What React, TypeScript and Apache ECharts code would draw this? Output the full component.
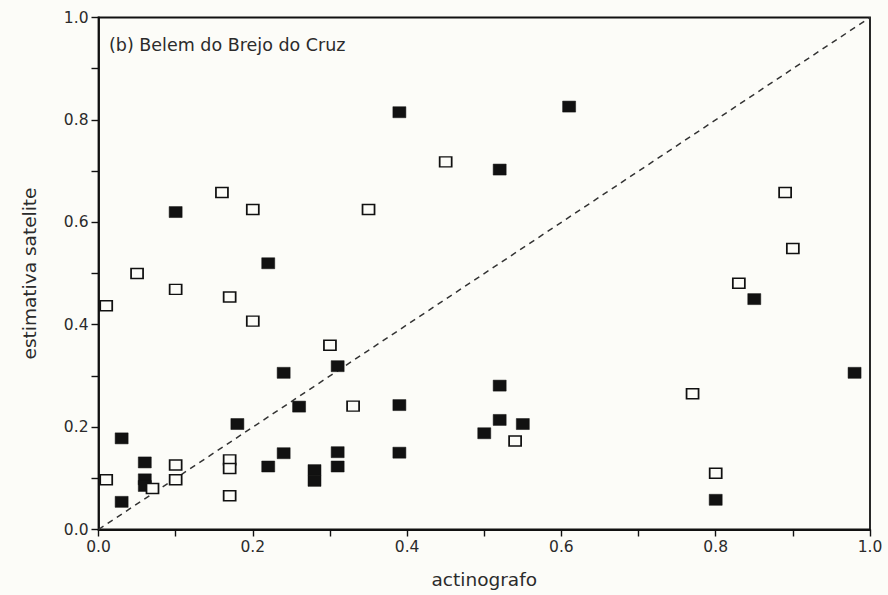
import React, { useEffect, useRef } from "react";
import * as echarts from "echarts";

// Solid squares
const filledX = [0.39, 0.61, 0.52, 0.10, 0.22, 0.85, 0.98, 0.31, 0.24, 0.52, 0.26, 0.39, 0.52, 0.55, 0.18, 0.50, 0.03, 0.39, 0.31, 0.24, 0.06, 0.31, 0.22, 0.28, 0.28, 0.06, 0.06, 0.80, 0.03];
const filledY = [0.815, 0.826, 0.703, 0.620, 0.520, 0.450, 0.306, 0.319, 0.306, 0.281, 0.240, 0.243, 0.214, 0.206, 0.206, 0.188, 0.178, 0.150, 0.151, 0.149, 0.131, 0.123, 0.123, 0.116, 0.095, 0.098, 0.085, 0.058, 0.054];

// Hollow squares
const openX = [0.45, 0.16, 0.89, 0.20, 0.35, 0.90, 0.05, 0.83, 0.10, 0.17, 0.01, 0.20, 0.30, 0.77, 0.33, 0.54, 0.17, 0.10, 0.17, 0.80, 0.01, 0.10, 0.07, 0.17];
const openY = [0.718, 0.658, 0.658, 0.625, 0.625, 0.549, 0.500, 0.481, 0.469, 0.454, 0.437, 0.407, 0.360, 0.265, 0.241, 0.173, 0.136, 0.126, 0.119, 0.110, 0.097, 0.097, 0.080, 0.066];

// 1:1 reference line
const diagX = [0, 1];
const diagY = [0, 1];

const tickValues = [0, 0.2, 0.4, 0.6, 0.8, 1.0];

const FONT = "DejaVu Sans";
const INK = "#111";
const TEXT = "#2b2b2b";
const PAPER = "#fcfcf8";

export default function App() {
  const ref = useRef<HTMLDivElement>(null);

  useEffect(() => {
    if (!ref.current) return;
    const chart = echarts.init(ref.current, undefined, { renderer: "svg" });

    // only every other tick carries a label
    const labelFmt = (v: number) =>
      tickValues.some((t) => Math.abs(t - v) < 1e-6) ? v.toFixed(1) : "";

    const axisCommon = {
      type: "value" as const,
      min: 0,
      max: 1,
      interval: 0.1,
      axisLine: { show: true, lineStyle: { color: INK, width: 1.8 } },
      axisTick: { show: true, inside: false, length: 7, lineStyle: { color: INK, width: 1.4 } },
      splitLine: { show: false },
      axisLabel: {
        formatter: labelFmt,
        color: TEXT,
        fontFamily: FONT,
        fontSize: 15.5,
        showMinLabel: true,
        showMaxLabel: true,
      },
      nameLocation: "middle" as const,
      nameTextStyle: { color: TEXT, fontFamily: FONT, fontSize: 18.5 },
    };

    chart.setOption({
      animation: false,
      backgroundColor: PAPER,
      grid: {
        left: 98.5,
        right: 18,
        top: 17.5,
        bottom: 65.5,
        show: true,
        borderColor: INK,
        borderWidth: 1.8,
        backgroundColor: "transparent",
      },
      title: {
        text: "(b) Belem do Brejo do Cruz",
        left: 104,
        top: 31,
        textStyle: { color: TEXT, fontFamily: FONT, fontSize: 17.5, fontWeight: "normal" },
      },
      xAxis: {
        ...axisCommon,
        name: "actinografo",
        nameGap: 40,
        axisLabel: { ...axisCommon.axisLabel, margin: 9 },
      },
      yAxis: {
        ...axisCommon,
        name: "estimativa satelite",
        nameGap: 60,
        axisLabel: { ...axisCommon.axisLabel, margin: 10 },
      },
      series: [
        {
          type: "line",
          data: diagX.map((x, i) => [x, diagY[i]]),
          symbol: "none",
          lineStyle: { color: "#333", width: 1.5, type: [6, 5] },
          z: 1,
        },
        {
          type: "scatter",
          data: filledX.map((x, i) => [x, filledY[i]]),
          symbol: "rect",
          symbolSize: [13, 11],
          itemStyle: { color: INK, borderColor: INK, borderWidth: 0.5, opacity: 1 },
          z: 2,
        },
        {
          type: "scatter",
          data: openX.map((x, i) => [x, openY[i]]),
          symbol: "rect",
          symbolSize: [12, 10],
          itemStyle: { color: PAPER, borderColor: INK, borderWidth: 1.6, opacity: 1 },
          z: 3,
        },
      ],
    });

    return () => chart.dispose();
  }, []);

  return (
    <div
      ref={ref}
      style={{ position: "fixed", left: 0, top: 0, width: 888, height: 595 }}
    />
  );
}
